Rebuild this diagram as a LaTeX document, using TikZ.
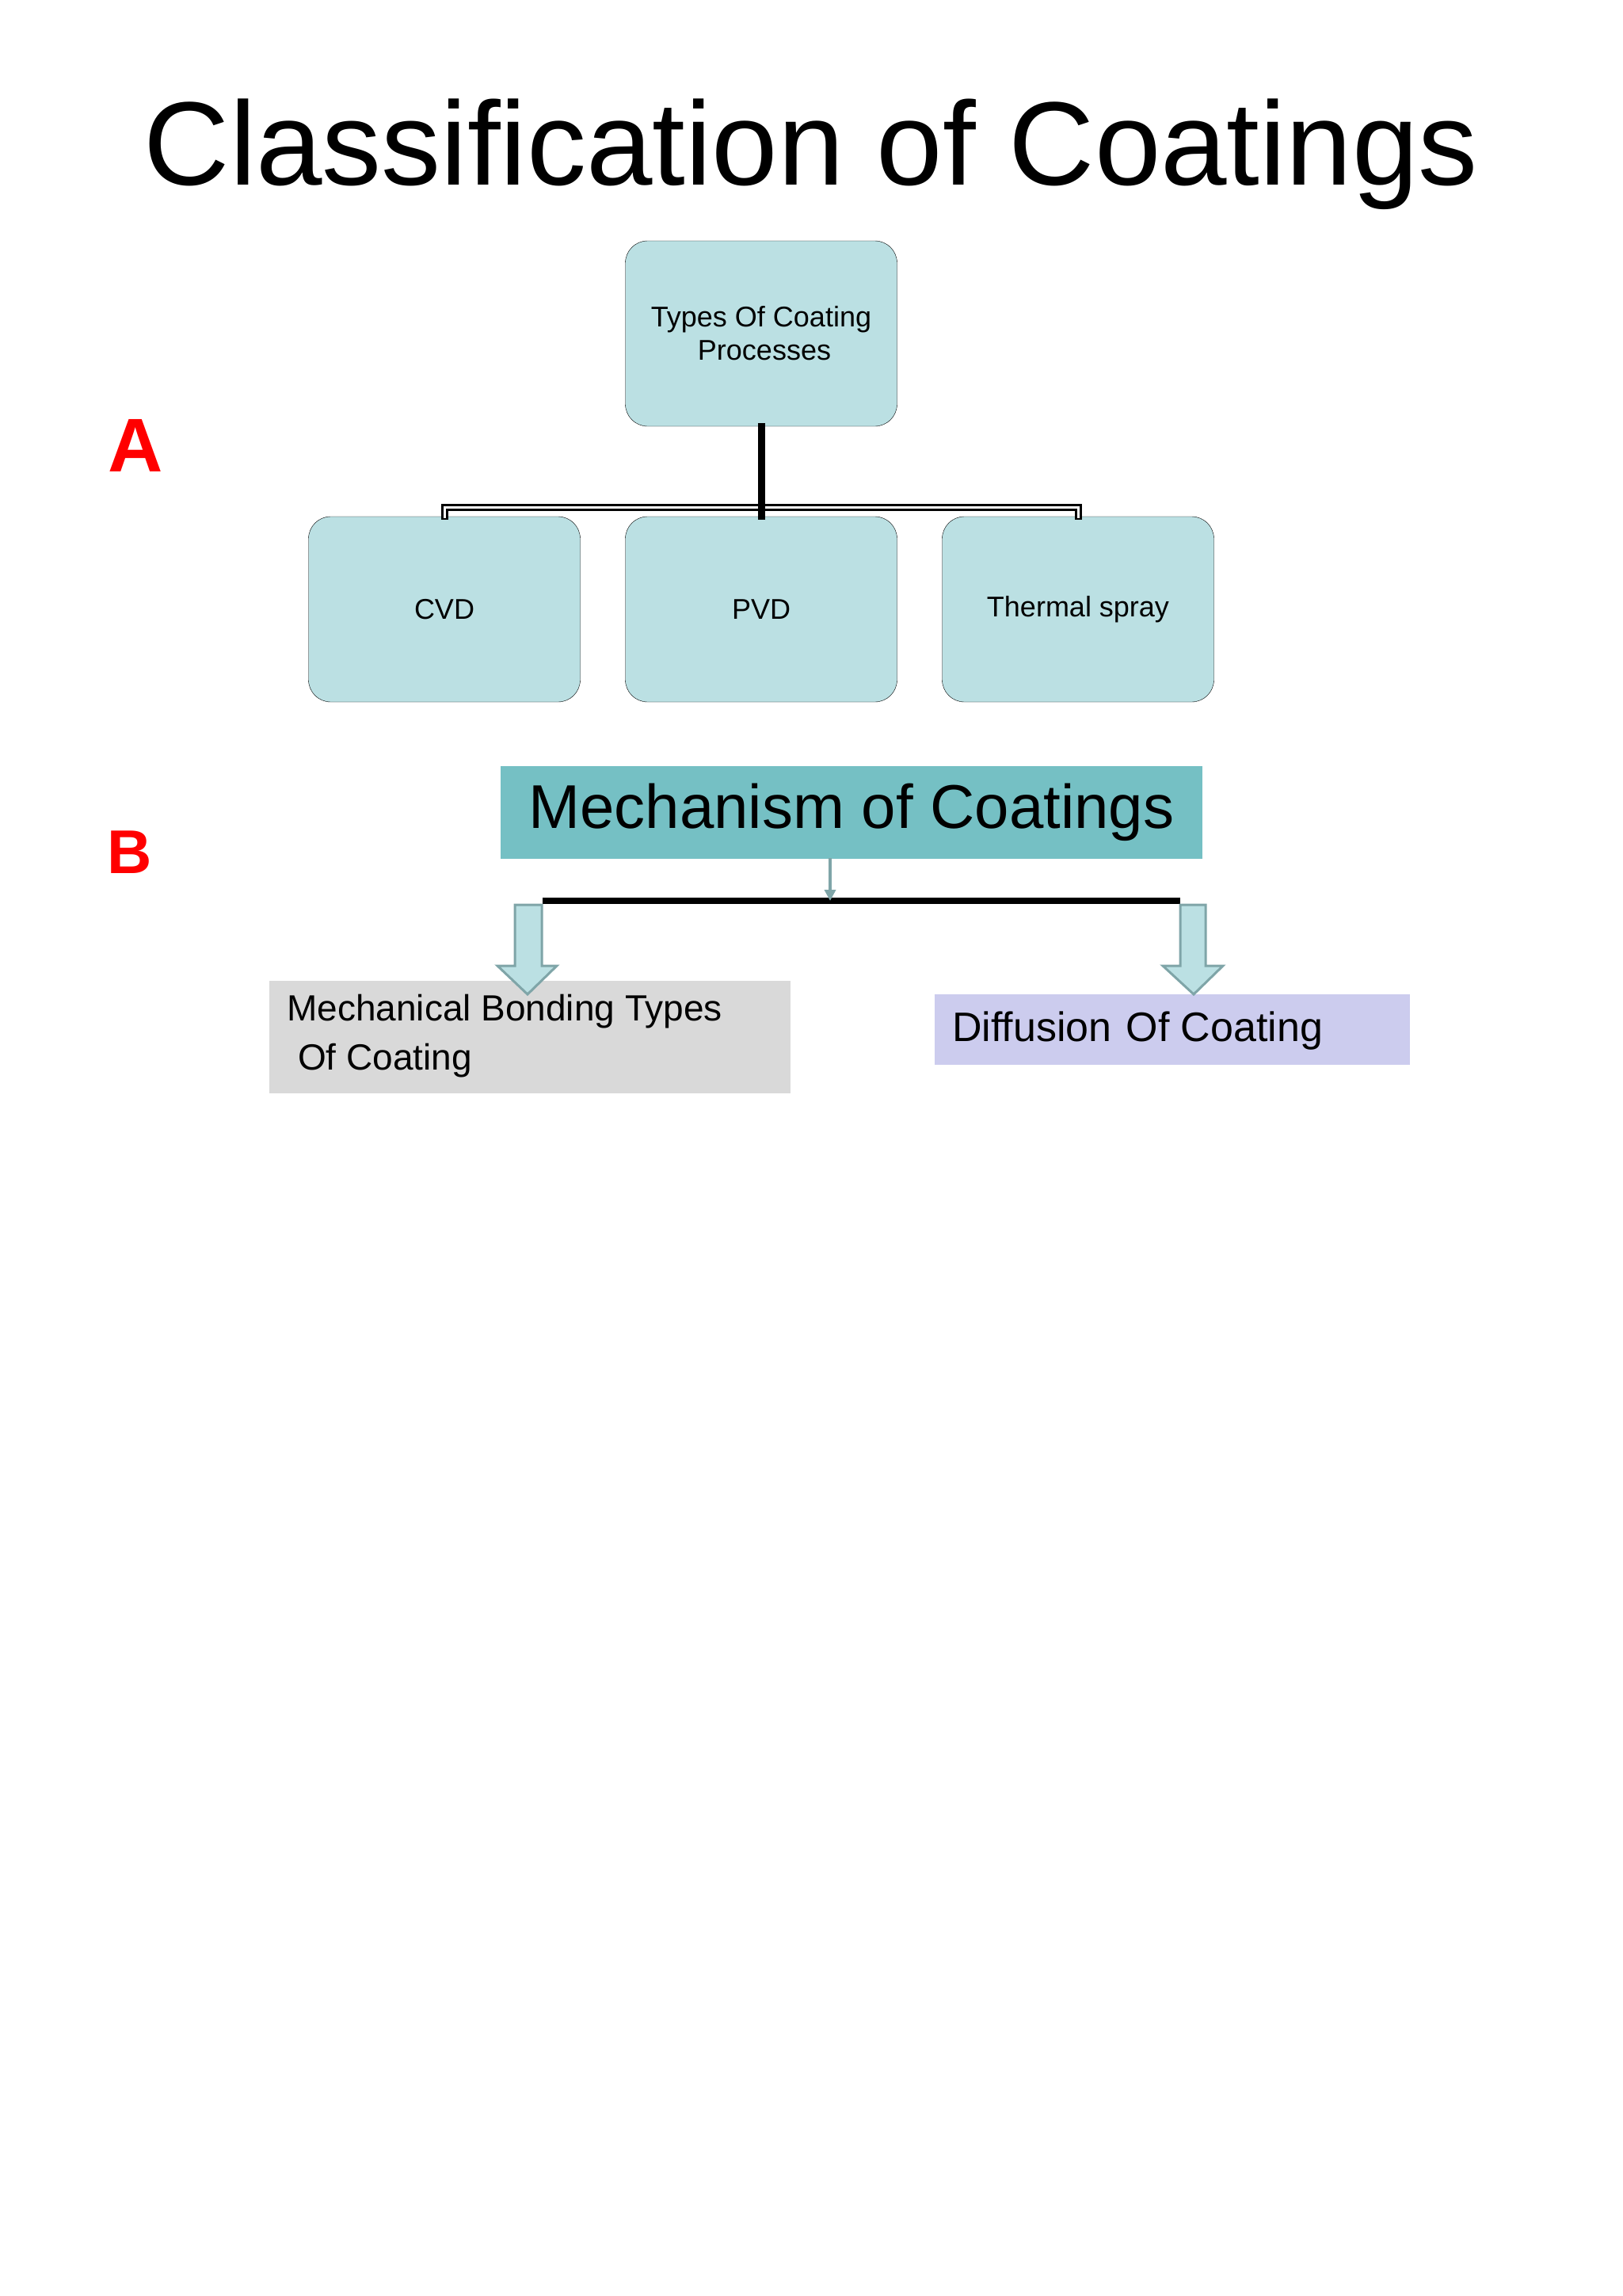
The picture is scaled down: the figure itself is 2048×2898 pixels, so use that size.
\documentclass[tikz,border=0pt]{standalone}
\usepackage{fontspec}
\setmainfont{Liberation Sans}
\usetikzlibrary{arrows.meta}
\definecolor{lteal}{HTML}{BBE0E3}
\definecolor{mteal}{HTML}{75C0C4}
\definecolor{lgrey}{HTML}{D9D9D9}
\definecolor{lpurp}{HTML}{CCCCEE}
\definecolor{arrline}{HTML}{7FA5A8}
\tikzset{
  procbox/.style={draw=black, fill=lteal, rounded corners=28pt, minimum width=343pt, minimum height=234pt, inner sep=0pt, align=center, font=\fontsize{36}{42}\selectfont},
  blockarrow/.style={draw=arrline, fill=lteal, line width=3pt, line join=miter},
  redlab/.style={text=red, font=\bfseries\fontsize{96}{110}\selectfont}
}
\begin{document}
\begin{tikzpicture}[x=1pt,y=-1pt]
\useasboundingbox (0,0) rectangle (2048,2898);
\node (title) at (1024,195) {\fontsize{150}{170}\selectfont Classification of Coatings};
\node[redlab] (A) at (171,562) {A};
\node[redlab, font=\bfseries\fontsize{78}{90}\selectfont] (B) at (164,1076) {B};
% part A
\node[procbox] (top) at (961,421) {Types Of Coating\\ \hspace*{8pt}Processes};
\node[procbox] (cvd) at (561,769) {CVD};
\node[procbox] (pvd) at (961,769) {PVD};
\node[procbox] (ts) at (1361,769) {Thermal spray};
\coordinate (bar) at (961,640);
\foreach \n in {cvd,pvd,ts}{
  \draw[line width=9pt, line cap=rect] (top.south) -- (bar) -| (\n.north);
}
\foreach \n in {cvd,ts}{
  \draw[white, line width=3pt] (top.south) ++(0,100) -- (bar) -| ([yshift=-2pt]\n.north);
}
\draw[line width=9pt] (top.south) -- (pvd.north);
% part B
\node[fill=mteal, minimum width=886pt, minimum height=117pt, inner sep=0pt, font=\fontsize{78}{90}\selectfont] (mech) at (1075,1025) {Mechanism of Coatings};
\node[fill=lgrey, minimum width=658pt, minimum height=142pt, inner sep=0pt, font=\fontsize{46}{62}\selectfont, align=left, anchor=north west] (mb) at (340,1238) {};
\node[anchor=north west, align=left, font=\fontsize{46}{62}\selectfont, inner sep=0pt] (mbt) at (362,1255) {Mechanical Bonding Types\\ \hspace*{14pt}Of Coating};
\node[fill=lpurp, minimum width=600pt, minimum height=89pt, inner sep=0pt, anchor=north west] (df) at (1180,1255) {};
\node[anchor=west, font=\fontsize{52}{62}\selectfont, inner sep=0pt] (dft) at (1202,1301) {Diffusion\hspace*{18pt}Of Coating};
\coordinate (hb) at (1048,1137);
\coordinate (hl) at (685,1137);
\coordinate (hr) at (1490,1137);
\draw[line width=8pt] (hl) -- (hr);
\draw[arrline, line width=4pt, -{Triangle[length=14pt,width=14pt]}] (1048,1083) -- (hb);
% block arrows
\draw[blockarrow] (650,1142) -- (684,1142) -- (684,1219) -- (703,1219) -- (666,1255) -- (628,1219) -- (650,1219) -- cycle;
\draw[blockarrow] (1490,1142) -- (1522,1142) -- (1522,1219) -- (1544,1219) -- (1507,1255) -- (1468,1219) -- (1490,1219) -- cycle;
\end{tikzpicture}
\end{document}
